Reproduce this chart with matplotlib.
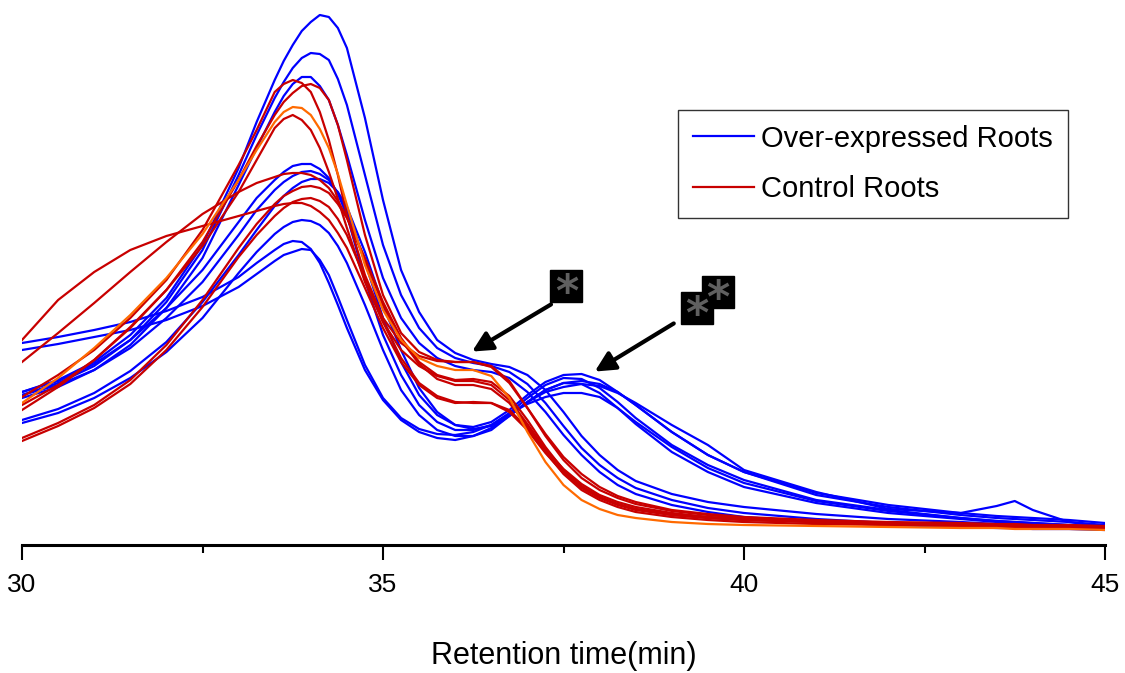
import matplotlib

matplotlib.use("Agg")

import matplotlib.pyplot as plt
from matplotlib.lines import Line2D
from matplotlib.ticker import MultipleLocator

plt.rcParams["font.family"] = ["Liberation Sans", "DejaVu Sans"]

# retention time grid (min)
time_min = [30, 30.5, 31, 31.5, 32, 32.5, 33, 33.25, 33.5, 33.625, 33.75, 33.875, 34, 34.125, 34.25,
            34.375, 34.5, 34.75, 35, 35.25, 35.5, 35.75, 36, 36.25, 36.5, 36.75, 37, 37.25, 37.5,
            37.75, 38, 38.25, 38.5, 39, 39.5, 40, 41, 42, 43, 43.5, 43.75, 44, 44.5, 45]

# over-expressed roots (detector signal, a.u.)
over_1 = [153, 165, 183, 210, 247, 300, 377, 423, 465, 484, 500, 514, 523, 530, 528, 517, 497, 427, 345, 275,
          233, 205, 192, 185, 181, 178, 170, 155, 133, 109, 90, 75, 64, 51, 43, 38, 31, 26, 23, 21, 20, 19, 18, 17]
over_2 = [150, 162, 179, 205, 243, 295, 370, 410, 447, 463, 477, 487, 492, 491, 485, 466, 440, 370, 300, 250,
          217, 197, 187, 182, 179, 173, 161, 142, 119, 97, 80, 67, 57, 45, 37, 32, 26, 22, 20, 19, 18, 18, 17, 16]
over_3 = [147, 158, 175, 200, 237, 287, 360, 397, 433, 449, 461, 468, 468, 459, 445, 420, 390, 325, 267, 227,
          202, 187, 179, 175, 173, 167, 153, 133, 110, 90, 73, 60, 51, 40, 33, 28, 23, 20, 18, 17, 17, 16, 16, 15]
over_4 = [153, 164, 181, 205, 237, 275, 323, 347, 365, 373, 379, 381, 381, 376, 367, 351, 330, 265, 210, 170,
          140, 123, 115, 115, 120, 132, 147, 160, 167, 166, 157, 143, 127, 100, 80, 65, 45, 35, 27, 24, 23, 22, 20, 18]
over_5 = [150, 160, 175, 197, 227, 263, 310, 335, 355, 363, 369, 373, 374, 371, 365, 352, 335, 283, 227, 183,
          150, 130, 120, 118, 123, 135, 150, 163, 170, 171, 165, 153, 140, 113, 90, 73, 50, 38, 30, 27, 26, 25, 23, 20]
over_6 = [125, 136, 152, 174, 203, 243, 290, 315, 339, 349, 357, 363, 366, 366, 362, 353, 338, 293, 240, 195,
          157, 133, 120, 116, 119, 130, 143, 155, 162, 164, 161, 153, 140, 113, 90, 73, 52, 40, 32, 29, 28, 27, 25, 22]
over_7 = [122, 132, 147, 167, 193, 227, 272, 293, 311, 318, 323, 325, 324, 320, 312, 299, 282, 240, 195, 155,
          130, 115, 109, 109, 115, 129, 143, 155, 162, 161, 152, 137, 121, 93, 73, 58, 42, 32, 26, 23, 22, 21, 19, 17]
over_8 = [202, 208, 215, 223, 234, 248, 268, 282, 295, 301, 304, 303, 296, 282, 262, 240, 217, 175, 145, 125,
          113, 107, 105, 109, 117, 129, 143, 153, 158, 161, 159, 152, 142, 120, 100, 75, 53, 36, 32, 39, 44, 35, 23, 18]
over_9 = [195, 201, 208, 215, 225, 239, 258, 271, 284, 290, 293, 296, 295, 285, 270, 248, 225, 180, 147, 127,
          116, 111, 110, 113, 120, 131, 141, 148, 152, 152, 148, 137, 123, 98, 77, 62, 44, 34, 27, 24, 23, 22, 20, 18]

# control roots
ctrl_1 = [148, 170, 195, 227, 265, 315, 380, 415, 453, 461, 465, 462, 453, 433, 405, 370, 330, 270, 227, 202,
          189, 184, 183, 183, 178, 162, 137, 111, 88, 71, 58, 49, 43, 35, 31, 28, 25, 23, 22, 21, 21, 20, 20, 19]
ctrl_2 = [140, 160, 185, 217, 255, 303, 365, 399, 430, 443, 452, 459, 461, 457, 445, 420, 385, 310, 250, 212,
          193, 185, 183, 183, 179, 164, 137, 109, 85, 67, 55, 47, 41, 34, 30, 27, 24, 22, 20, 19, 19, 18, 18, 17]
ctrl_3 = [135, 158, 185, 218, 255, 299, 353, 385, 417, 426, 430, 425, 415, 397, 373, 346, 317, 263, 223, 195,
          179, 169, 164, 164, 160, 145, 121, 96, 76, 61, 50, 43, 38, 32, 28, 26, 23, 21, 19, 18, 18, 17, 17, 16]
ctrl_4 = [183, 212, 242, 273, 303, 331, 353, 362, 368, 371, 372, 372, 370, 365, 357, 344, 328, 285, 240, 205,
          181, 166, 160, 160, 156, 142, 119, 94, 73, 58, 48, 41, 36, 31, 28, 26, 24, 22, 21, 20, 20, 19, 19, 18]
ctrl_5 = [205, 245, 273, 295, 309, 319, 329, 334, 339, 341, 342, 342, 339, 333, 325, 312, 297, 257, 217, 183,
          160, 147, 142, 143, 142, 133, 115, 92, 72, 57, 47, 40, 35, 30, 27, 25, 23, 21, 20, 19, 19, 18, 18, 17]
ctrl_6 = [107, 122, 140, 165, 200, 245, 297, 321, 341, 349, 354, 358, 359, 357, 352, 341, 327, 287, 243, 207,
          183, 170, 165, 166, 163, 149, 125, 98, 75, 59, 48, 41, 36, 30, 27, 25, 23, 21, 20, 19, 19, 18, 18, 17]
ctrl_7 = [104, 119, 137, 161, 195, 238, 288, 310, 329, 337, 343, 346, 347, 344, 338, 326, 310, 267, 223, 187,
          162, 149, 143, 142, 142, 135, 117, 93, 71, 55, 45, 38, 33, 28, 25, 23, 21, 20, 19, 18, 18, 17, 17, 16]
ctrl_orange = [142, 167, 197, 230, 267, 311, 365, 395, 423, 433, 438, 437, 430, 416, 397, 371, 340, 280, 235,
               205, 187, 179, 175, 175, 169, 147, 113, 83, 60, 45, 36, 30, 27, 23, 21, 20, 19, 18, 17, 17, 16,
               16, 16, 15]

over_series = [over_1, over_2, over_3, over_4, over_5, over_6, over_7, over_8, over_9]
ctrl_series = [ctrl_1, ctrl_2, ctrl_3, ctrl_4, ctrl_5, ctrl_6, ctrl_7]

legend_labels = ["Over-expressed Roots", "Control Roots"]

# arrow annotations: (tail, tip) in data units, and the asterisk boxes
arrows = [((37.36, 242), (36.2, 192)), ((39.06, 223), (37.9, 172))]
star_boxes = [(37.54, 259), (39.35, 237), (39.64, 253)]

BLUE = "#0000ff"
RED = "#c80000"
ORANGE = "#ff6a00"

fig = plt.figure(figsize=(11.25, 6.73), dpi=100)
ax = fig.add_axes([22 / 1125, 128 / 673, 1083 / 1125, 545 / 673])

for values in over_series:
    ax.plot(time_min, values, color=BLUE, lw=1.6, solid_joinstyle="round")
for values in ctrl_series:
    ax.plot(time_min, values, color=RED, lw=1.6, solid_joinstyle="round")
ax.plot(time_min, ctrl_orange, color=ORANGE, lw=1.6, solid_joinstyle="round")

ax.set_xlim(30, 45)
ax.set_ylim(0, 545)
ax.set_xticks([30, 35, 40, 45])
ax.xaxis.set_minor_locator(MultipleLocator(2.5))
ax.set_yticks([])
ax.spines[["top", "right", "left"]].set_visible(False)
ax.spines["bottom"].set_linewidth(2.2)
ax.tick_params(axis="x", which="major", length=11, width=1.5, labelsize=19, pad=9)
ax.tick_params(axis="x", which="minor", length=6, width=1.5)
ax.set_xlabel("Retention time(min)", fontsize=22, labelpad=32)

for tail, tip in arrows:
    ax.annotate("", xy=tip, xytext=tail,
                arrowprops=dict(arrowstyle="-|>", lw=3, color="black", mutation_scale=30))
for bx, by in star_boxes:
    ax.plot(bx, by, marker="s", markersize=23, color="black", clip_on=False)
    ax.text(bx, by - 8, "*", color="#606060", fontsize=32, fontweight="bold",
            ha="center", va="center", family="DejaVu Sans")

handles = [Line2D([], [], color=BLUE, lw=1.6), Line2D([], [], color=RED, lw=1.6)]
leg = ax.legend(handles, legend_labels, loc="upper left",
                bbox_to_anchor=(678 / 1125, 1 - 110 / 673), bbox_transform=fig.transFigure,
                fontsize=21, frameon=True, fancybox=False, borderaxespad=0,
                handlelength=2.1, handletextpad=0.26, labelspacing=0.78, borderpad=0.5)
leg.get_frame().set_edgecolor("black")
leg.get_frame().set_linewidth(1.0)

fig.savefig("out.png", dpi=100)
plt.close(fig)
